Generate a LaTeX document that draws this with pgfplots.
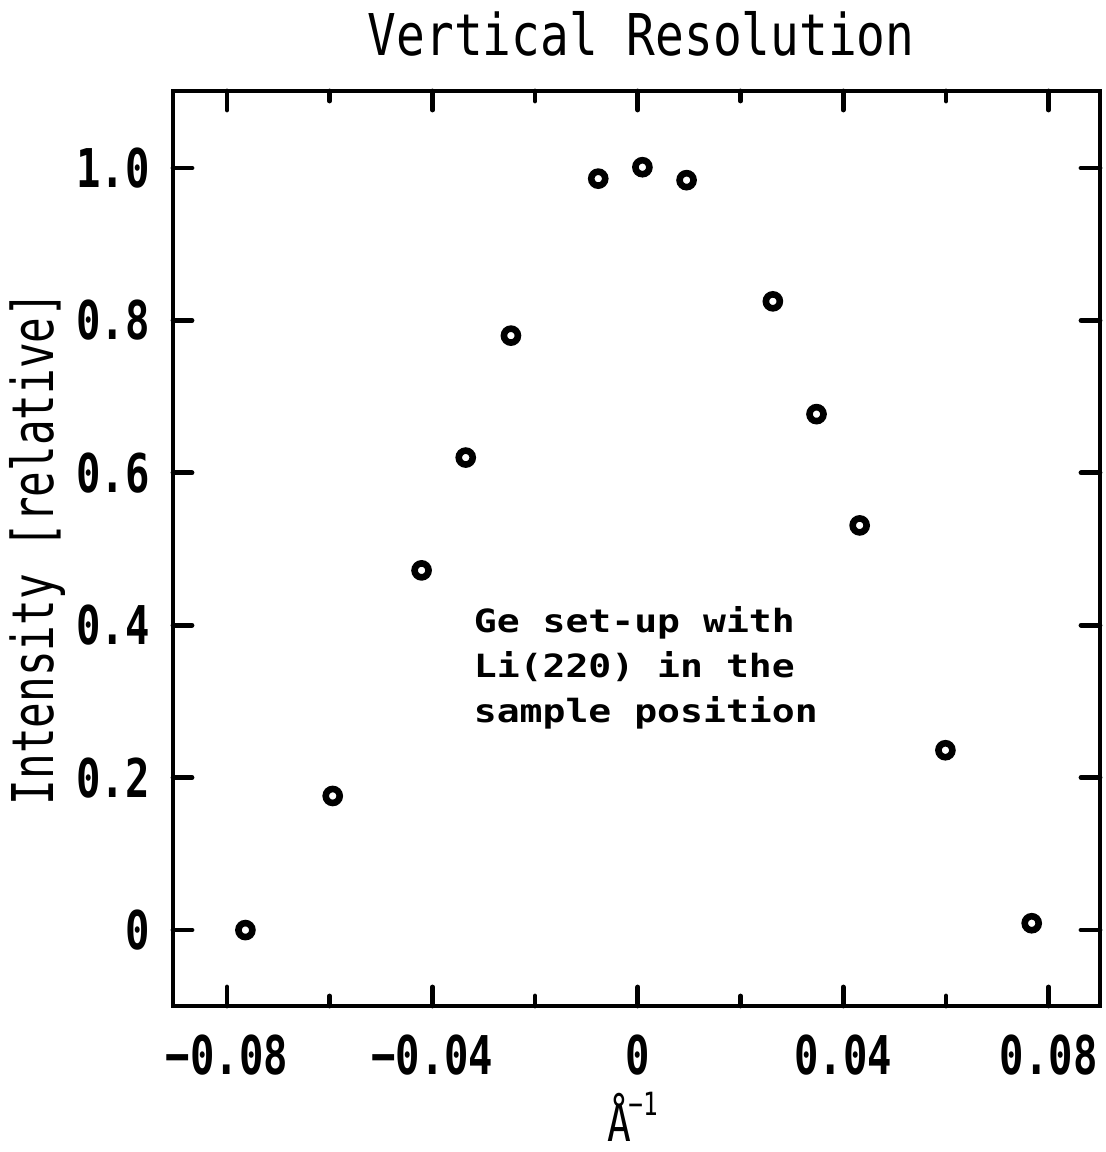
\documentclass[border=0pt]{standalone}
\usepackage{fontspec}
\usepackage{pgfplots}
\pgfplotsset{compat=1.18}
\setmainfont{DejaVu Sans Mono}
\newfontfamily\ttlfont[FakeStretch=0.83]{DejaVu Sans Mono}
\newfontfamily\ylfont[FakeStretch=0.74]{DejaVu Sans Mono}
\newfontfamily\tckfont[FakeStretch=0.76]{DejaVu Sans Mono}
\newfontfamily\annfont[FakeStretch=1.19]{DejaVu Sans Mono}
\begin{document}
\begin{tikzpicture}
\begin{axis}[
  scale only axis, width=463.5pt, height=457.5pt,
  xmin=-0.0905, xmax=0.090,
  ymin=-0.0996, ymax=1.101,
  scaled x ticks=false, scaled y ticks=false,
  axis line style={line width=2.4pt},
  tick style={line width=2.4pt, line cap=round, black},
  tick align=inside,
  major tick length=9.5pt, minor tick length=5pt,
  xtick={-0.08,-0.04,0,0.04,0.08},
  minor xtick={-0.06,-0.02,0.02,0.06},
  xticklabels={{−0.08},{−0.04},{0},{0.04},{0.08}},
  ytick={0,0.2,0.4,0.6,0.8,1.0},
  yticklabels={{0},{0.2},{0.4},{0.6},{0.8},{1.0}},
  ticklabel style={font=\tckfont\bfseries\fontsize{26.7}{30}\selectfont, inner sep=0pt},
  xticklabel style={yshift=-14pt},
  yticklabel style={xshift=-11.5pt},
  title={Vertical Resolution},
  title style={at={(axis description cs:0.505,1.049)}, anchor=center, inner sep=0pt,
    font=\ttlfont\fontsize{28.8}{32}\selectfont},
  ylabel={Intensity [relative]},
  ylabel style={at={(axis description cs:-0.1467,0.5)}, anchor=center, inner sep=0pt,
    font=\ylfont\fontsize{28.8}{32}\selectfont},
  xlabel={\raisebox{0pt}[0.9em][0pt]{Å\kern-0.05em\raisebox{0.5em}{\fontsize{16}{16}\selectfont −1}}},
  xlabel style={at={(axis description cs:0.468,-0.148)}, anchor=base west, inner sep=0pt,
    font=\tckfont\fontsize{26}{30}\selectfont},
  clip=false,
]
\addplot[only marks, mark=o, mark size=3.5pt, mark options={line width=3.3pt, black}] coordinates {
(-0.0764,0.000)
(-0.0594,0.176)
(-0.0421,0.472)
(-0.0335,0.620)
(-0.0247,0.780)
(-0.0077,0.986)
(0.0009,1.001)
(0.0095,0.984)
(0.0263,0.825)
(0.0348,0.677)
(0.0432,0.531)
(0.0599,0.236)
(0.0767,0.009)
};
\node[anchor=north west, align=left, inner sep=0pt,
  font=\annfont\bfseries\fontsize{16}{22.5}\selectfont]
  at (axis cs:-0.0320,0.4246) {Ge set-up with\\Li(220) in the\\sample position};
\end{axis}
\pgfresetboundingbox
\path (-86.5pt,-73pt) rectangle (466.5pt,503pt);
\end{tikzpicture}
\end{document}
